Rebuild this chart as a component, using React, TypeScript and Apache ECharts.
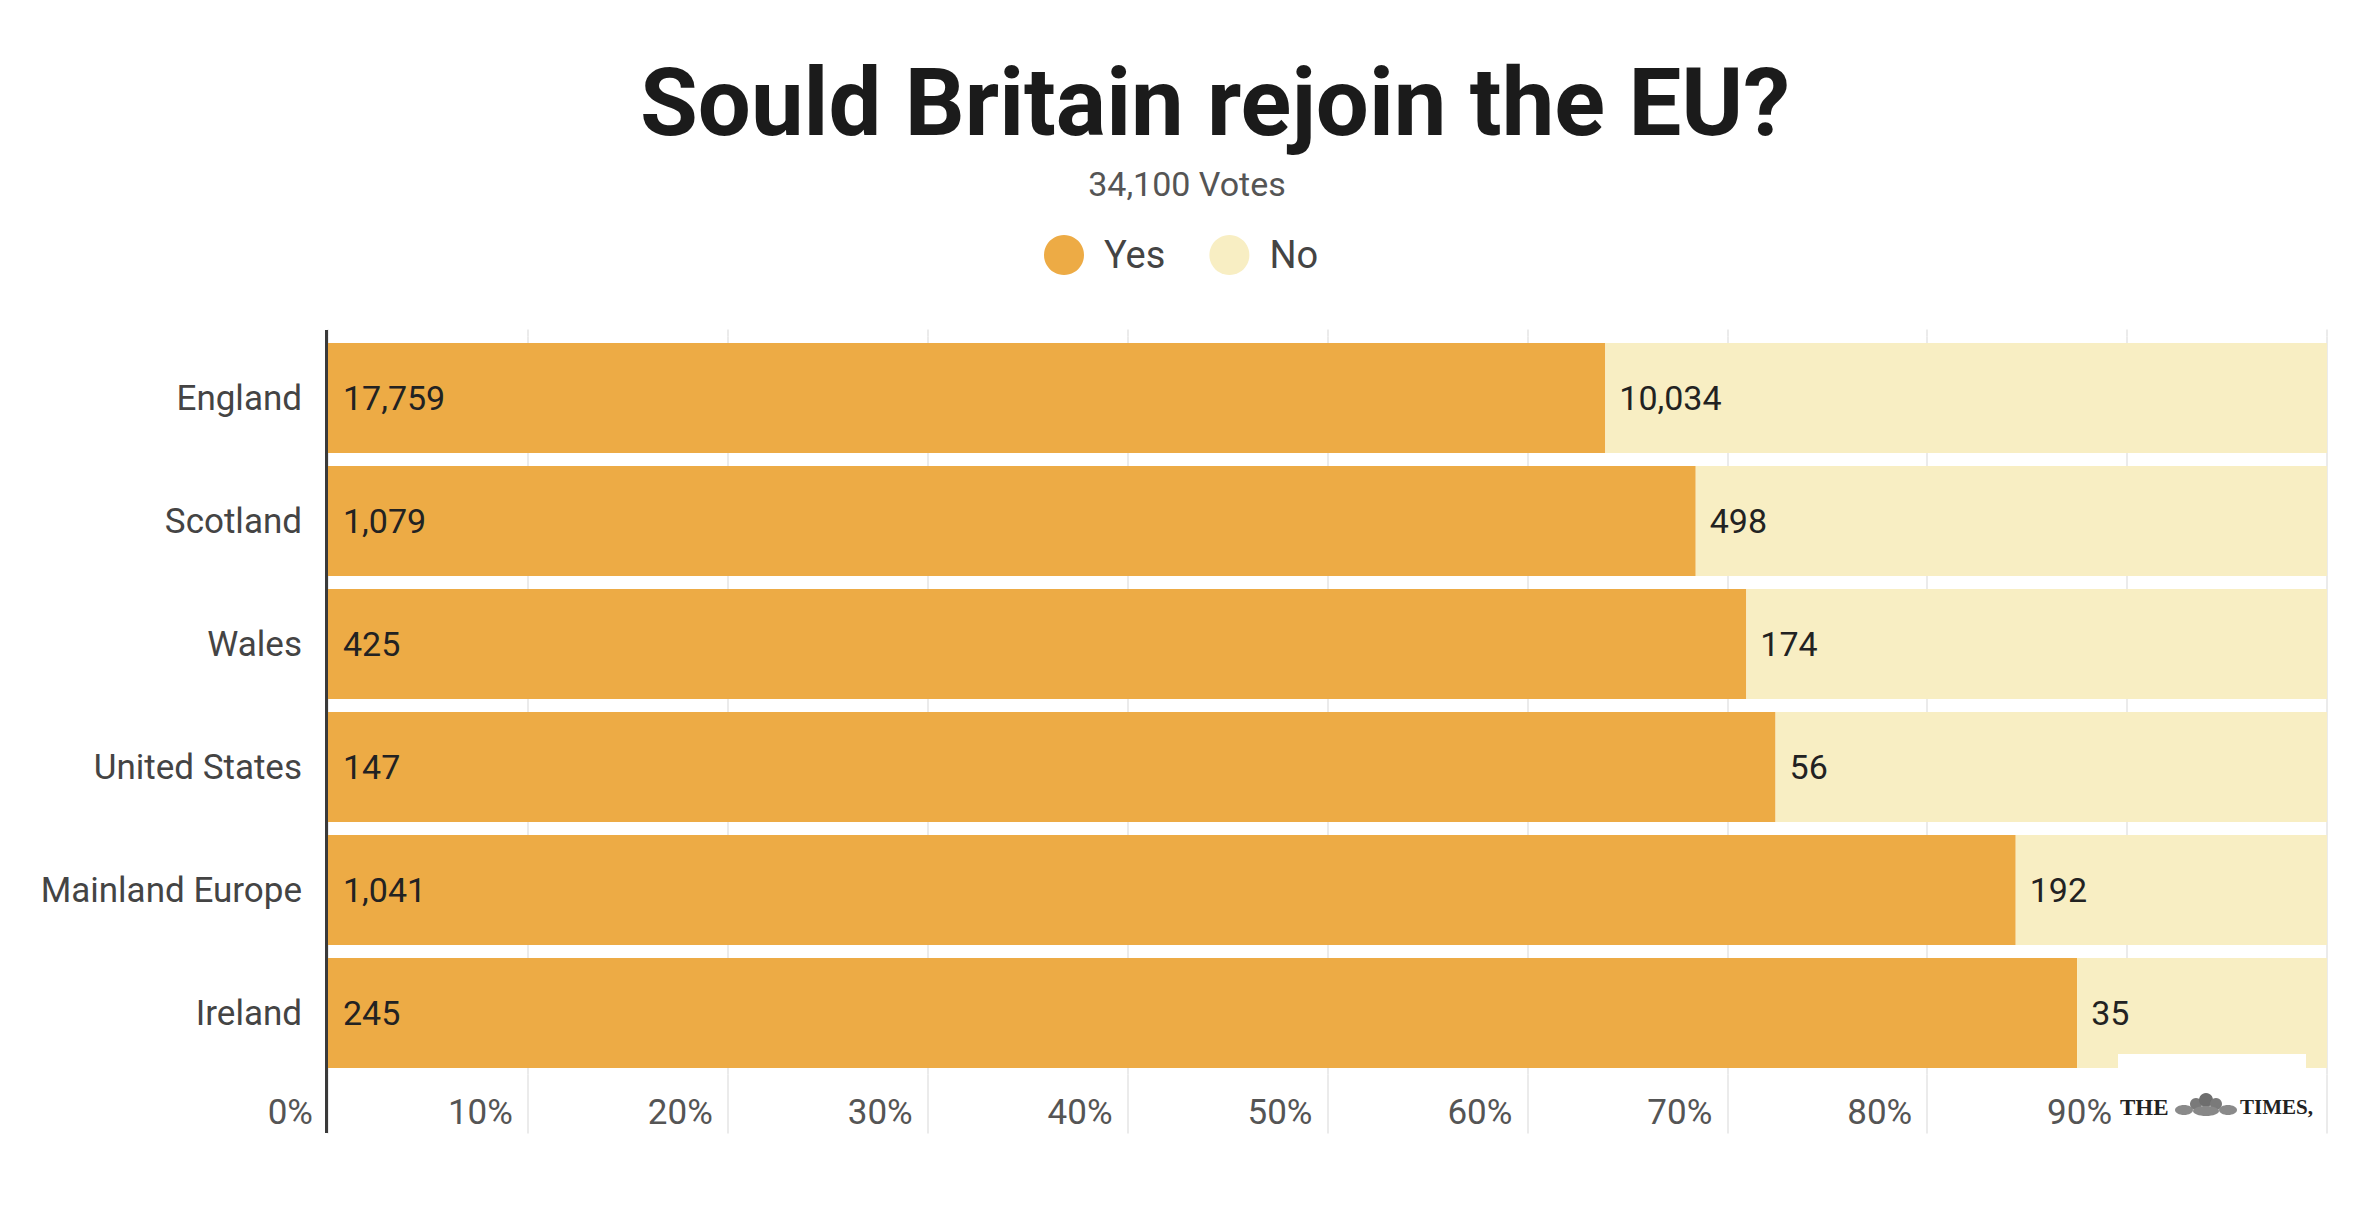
import { useEffect, useRef } from "react";
import * as echarts from "echarts";

// votes per region
const regions = ["England", "Scotland", "Wales", "United States", "Mainland Europe", "Ireland"];
const yesVotes = [17759, 1079, 425, 147, 1041, 245];
const noVotes = [10034, 498, 174, 56, 192, 35];
const totalVotesLabel = "34,100 Votes";
const seriesNames = ["Yes", "No"];

const YES_COLOR = "#EDAB45";
const NO_COLOR = "#F8EEC3";
const GRID_COLOR = "#e4e4e4";
const FONT = "Roboto";

const fmt = (n: number) => n.toLocaleString("en-US");

function App() {
  const chartRef = useRef<HTMLDivElement>(null);

  useEffect(() => {
    document.body.style.margin = "0";
    const chart = echarts.init(chartRef.current, null, { renderer: "svg" });

    // bars are shares of each region's votes, labels show the raw counts
    const yesPct = yesVotes.map((y, i) => (y / (y + noVotes[i])) * 100);
    const noPct = noVotes.map((n, i) => (n / (yesVotes[i] + n)) * 100);

    const gridLeft = 328;
    const gridTop = 336.5;
    const gridBottomY = 1074.5;

    const option = {
      animation: false,
      textStyle: { fontFamily: FONT },
      legend: {
        data: seriesNames,
        icon: "circle",
        itemWidth: 40,
        itemHeight: 40,
        itemGap: 44,
        left: 1039,
        top: 230,
        selectedMode: false,
        textStyle: { fontSize: 38, color: "#444", fontFamily: FONT, padding: [0, 0, 0, 15] },
      },
      grid: {
        left: gridLeft,
        right: 29,
        top: gridTop,
        bottom: 1208 - gridBottomY,
      },
      xAxis: [
        {
          type: "value",
          min: 0,
          max: 100,
          interval: 10,
          position: "bottom",
          axisLine: { show: false },
          axisTick: { show: true, length: 59, lineStyle: { color: GRID_COLOR, width: 1.5 } },
          splitLine: { show: true, lineStyle: { color: GRID_COLOR, width: 1.5 } },
          axisLabel: {
            formatter: (v: number) => (v === 100 ? "" : v + "%"),
            align: "right",
            padding: [0, 15, 0, 0],
            margin: 20,
            fontSize: 35,
            color: "#555",
            fontFamily: FONT,
          },
        },
        {
          type: "value",
          min: 0,
          max: 100,
          interval: 10,
          position: "top",
          axisLine: { show: false },
          axisTick: { show: true, length: 7, lineStyle: { color: GRID_COLOR, width: 1.5 } },
          splitLine: { show: false },
          axisLabel: { show: false },
        },
      ],
      yAxis: {
        type: "category",
        data: regions,
        inverse: true,
        axisLine: { show: false },
        axisTick: { show: false },
        axisLabel: { margin: 26, fontSize: 35, color: "#444", fontFamily: FONT },
      },
      series: [
        {
          name: "Yes",
          type: "bar",
          stack: "total",
          barCategoryGap: "10.6%",
          data: yesPct,
          silent: true,
          itemStyle: { color: YES_COLOR },
          label: {
            show: true,
            position: "insideLeft",
            distance: 15,
            formatter: (p: any) => fmt(yesVotes[p.dataIndex]),
            fontSize: 34,
            color: "#222",
            fontFamily: FONT,
          },
        },
        {
          name: "No",
          type: "bar",
          stack: "total",
          barCategoryGap: "10.6%",
          data: noPct,
          silent: true,
          itemStyle: { color: NO_COLOR },
          label: {
            show: true,
            position: "insideLeft",
            distance: 14,
            formatter: (p: any) => fmt(noVotes[p.dataIndex]),
            fontSize: 34,
            color: "#222",
            fontFamily: FONT,
          },
        },
      ],
      graphic: [
        {
          type: "text",
          x: 1215,
          y: 103,
          style: {
            text: "Sould Britain rejoin the EU?",
            fontSize: 94,
            fontWeight: "bold",
            fontFamily: FONT,
            fill: "#1b1b1b",
            align: "center",
            verticalAlign: "middle",
          },
        },
        {
          type: "text",
          x: 1187,
          y: 184,
          style: {
            text: totalVotesLabel,
            fontSize: 34,
            fontFamily: FONT,
            fill: "#555",
            align: "center",
            verticalAlign: "middle",
          },
        },
        // dark y axis line running through the label row
        {
          type: "line",
          z: 50,
          shape: { x1: 326.5, y1: 330, x2: 326.5, y2: 1133 },
          style: { stroke: "#3a3a3a", lineWidth: 3 },
        },
        // The Times logo block
        {
          type: "rect",
          z: 100,
          shape: { x: 2118, y: 1054, width: 188, height: 90 },
          style: { fill: "#fff" },
        },
        {
          type: "text",
          z: 101,
          x: 2120,
          y: 1107,
          style: {
            text: "THE",
            fontSize: 23,
            fontWeight: "bold",
            fontFamily: "Liberation Serif",
            fill: "#222",
            align: "left",
            verticalAlign: "middle",
          },
        },
        { type: "ellipse", z: 101, shape: { cx: 2184, cy: 1110, rx: 9, ry: 5 }, style: { fill: "#8a8a8a" } },
        { type: "circle", z: 101, shape: { cx: 2196, cy: 1104, r: 6 }, style: { fill: "#7a7a7a" } },
        { type: "circle", z: 101, shape: { cx: 2206, cy: 1100, r: 7 }, style: { fill: "#6e6e6e" } },
        { type: "circle", z: 101, shape: { cx: 2216, cy: 1104, r: 6 }, style: { fill: "#7a7a7a" } },
        { type: "ellipse", z: 101, shape: { cx: 2206, cy: 1111, rx: 13, ry: 5 }, style: { fill: "#888" } },
        { type: "ellipse", z: 101, shape: { cx: 2228, cy: 1110, rx: 9, ry: 5 }, style: { fill: "#8a8a8a" } },
        {
          type: "text",
          z: 101,
          x: 2240,
          y: 1107,
          style: {
            text: "TIMES,",
            fontSize: 21,
            fontWeight: "bold",
            fontFamily: "Liberation Serif",
            fill: "#222",
            align: "left",
            verticalAlign: "middle",
          },
        },
      ],
    };

    chart.setOption(option);
    return () => {
      chart.dispose();
    };
  }, []);

  return <div ref={chartRef} style={{ width: "2356px", height: "1208px" }}></div>;
}

export default App;
